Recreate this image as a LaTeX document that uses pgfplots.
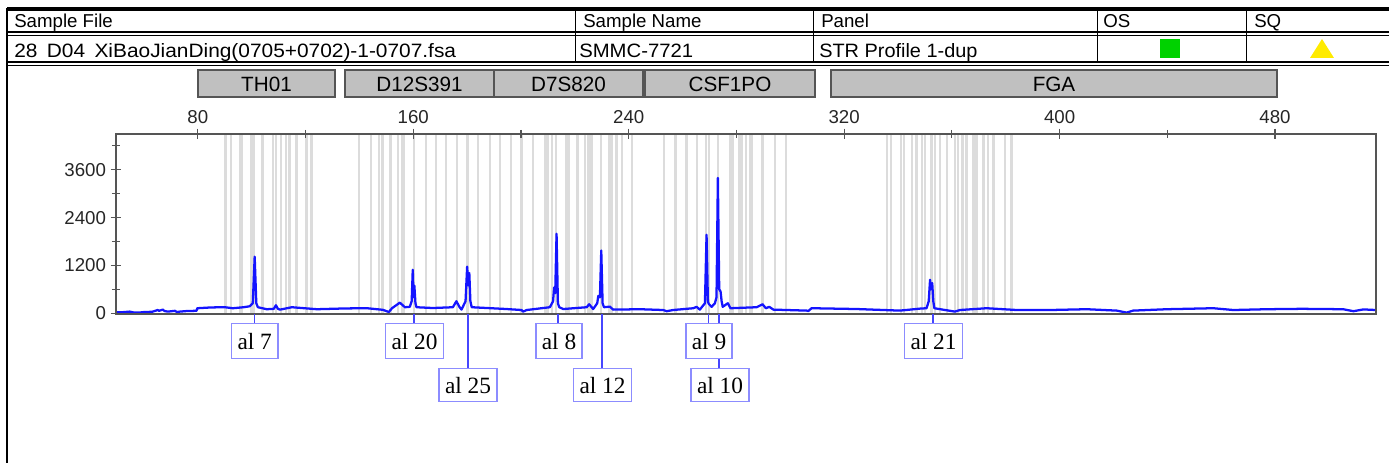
\documentclass[border=0pt]{standalone}
\usepackage{pgfplots}
\pgfplotsset{compat=1.18}
\usepackage{fontspec}
\setmainfont{Liberation Sans}
\newfontfamily\seriffont{Liberation Serif}
\definecolor{bin}{RGB}{220,220,220}
\definecolor{trace}{RGB}{20,20,255}
\definecolor{lblbox}{RGB}{140,140,255}
\definecolor{conn}{RGB}{70,70,255}
\definecolor{locus}{RGB}{192,192,192}
\definecolor{frame}{RGB}{85,85,85}
\definecolor{osgreen}{RGB}{0,210,0}
\definecolor{sqyellow}{RGB}{255,235,0}

\pgfplotstableread{
x y
90.2 4500
92.3 4500
95.6 4500
96.3 4500
99.9 4500
100.8 4500
104.0 4500
108.0 4500
109.0 4500
110.8 4500
112.7 4500
114.0 4500
116.6 4500
120.3 4500
122.2 4500
139.9 4500
144.3 4500
147.3 4500
148.6 4500
151.6 4500
154.4 4500
156.0 4500
156.5 4500
160.2 4500
164.7 4500
168.4 4500
172.1 4500
176.3 4500
180.2 4500
184.1 4500
188.4 4500
192.2 4500
196.2 4500
200.2 4500
204.5 4500
208.9 4500
209.9 4500
211.6 4500
212.9 4500
216.9 4500
217.8 4500
221.0 4500
223.7 4500
225.0 4500
226.2 4500
229.7 4500
232.8 4500
233.7 4500
235.5 4500
237.6 4500
241.3 4500
253.1 4500
257.4 4500
261.5 4500
265.4 4500
268.7 4500
269.8 4500
273.2 4500
277.6 4500
278.6 4500
281.0 4500
281.9 4500
283.5 4500
285.0 4500
285.6 4500
289.7 4500
294.3 4500
298.3 4500
335.8 4500
337.4 4500
341.1 4500
342.3 4500
345.1 4500
346.9 4500
348.8 4500
350.0 4500
352.5 4500
353.7 4500
355.6 4500
358.1 4500
361.2 4500
362.2 4500
363.9 4500
365.5 4500
368.0 4500
369.2 4500
371.7 4500
373.5 4500
375.4 4500
379.7 4500
382.2 4500
}\bins

\pgfplotstableread{
x y
49.6 20
52.0 25
54.7 40
56.0 20
58.0 15
60.3 30
63.0 35
65.1 80
65.6 60
67.0 90
67.6 55
68.9 40
71.5 60
72.2 30
73.3 40
76.0 55
79.5 60
79.8 125
85.0 145
90.0 150
93.0 125
97.0 150
99.3 175
100.4 250
101.1 1420
101.7 250
102.3 150
105.6 100
108.2 110
109.0 200
109.7 110
110.5 90
114.9 150
124.2 100
135.0 120
142.8 125
148.7 85
150.9 30
152.1 125
155.0 265
156.9 150
158.7 160
159.4 300
159.8 1090
160.1 400
160.4 690
160.8 250
161.2 150
167.3 130
174.7 150
176.0 300
177.2 150
177.9 90
179.4 300
180.0 1170
180.4 700
180.8 1010
181.2 300
181.7 150
194.6 105
200.2 80
200.8 40
202.1 80
210.7 150
211.9 300
212.3 645
212.7 500
213.2 1995
213.7 250
214.2 150
215.7 105
224.4 150
225.3 225
226.8 105
228.3 250
228.7 435
229.3 400
229.8 1575
230.3 250
230.8 150
233.0 165
234.2 90
244.2 100
252.8 80
254.1 50
256.5 80
264.0 125
265.2 160
266.4 90
268.3 250
268.9 1970
269.4 300
269.7 235
270.8 160
272.0 250
272.6 400
273.1 3395
273.6 600
274.1 545
274.5 300
274.9 160
276.8 250
277.8 125
287.5 150
289.7 225
290.9 125
292.2 160
293.7 90
306.1 65
306.7 55
307.9 125
324.6 105
340.7 65
348.2 115
350.6 125
351.4 300
351.9 840
352.2 600
352.7 755
353.1 300
353.5 125
361.1 40
363.0 80
372.9 125
384.1 80
396.4 80
410.1 100
421.2 65
424.9 15
427.3 65
439.8 100
457.1 125
464.5 80
476.9 100
490.0 110
505.3 100
509.1 50
512.8 95
517.5 80
}\tracedata

\begin{document}
\begin{tikzpicture}
\path[use as bounding box] (0,0) rectangle (1041.75pt,-347.25pt);

\begin{axis}[
  at={(87pt,-235.5pt)}, anchor=south west,
  width=945pt, height=135pt, scale only axis,
  xmin=49.6, xmax=517.5, ymin=-20, ymax=4500,
  axis on top,
  axis line style={frame, line width=1.1pt},
  xtick={80,160,...,480}, minor xtick={120,200,...,440},
  ytick={0,1200,2400,3600}, minor ytick={600,1800,3000,4200},
  xtick pos=right, xticklabel pos=right, ytick pos=left,
  tick align=center,
  major tick length=8pt, minor tick length=6pt,
  every tick/.style={frame, line width=0.8pt},
  scaled y ticks=false,
  /pgf/number format/set thousands separator={},
  /pgf/number format/assume math mode=true,
  ticklabel style={font=\fontsize{14pt}{16pt}\selectfont, text=black!85},
  clip=true,
]
\addplot[ycomb, no markers, bin, line width=1.8pt, forget plot] table[x=x,y=y] {\bins};
\addplot[trace, line width=1.7pt, line join=round, no markers] table[x=x,y=y] {\tracedata};
\end{axis}

\begin{scope}[x=0.75pt,y=-0.75pt]
  % header table
  \draw[line width=0.9pt] (7,8) -- (1389,8);
  \draw[line width=0.9pt] (7,10) -- (1389,10);
  \draw[line width=0.9pt] (7,32) -- (1389,32);
  \draw[line width=0.9pt] (7,35.5) -- (1389,35.5);
  \draw[line width=0.9pt] (7,62) -- (1389,62);
  \draw[line width=0.9pt] (7,65.5) -- (1389,65.5);
  \draw[line width=1pt] (7,8) -- (7,463);
  \foreach \cx in {575,813,1097,1246} { \draw[line width=0.6pt] (\cx,10) -- (\cx,62); }
  \begin{scope}[every node/.style={anchor=base west, inner sep=0pt, font=\fontsize{14pt}{16pt}\selectfont}]
    \node at (14,28) {Sample File};
    \node at (583,28) {Sample Name};
    \node at (821,28) {Panel};
    \node at (1103,28) {OS};
    \node at (1254,28) {SQ};
  \end{scope}
  \begin{scope}[every node/.style={anchor=base west, inner sep=0pt, font=\fontsize{14.5pt}{16pt}\selectfont}]
    \node at (14,57.5) {\scalebox{1.08}[1]{28\hspace{0.45em}D04\hspace{0.45em}XiBaoJianDing(0705+0702)-1-0707.fsa}};
    \node at (579,57.5) {\scalebox{1.05}[1]{SMMC-7721}};
    \node at (819,57.5) {\scalebox{1.03}[1]{STR Profile 1-dup}};
  \end{scope}
  \fill[osgreen] (1160,39) rectangle (1180,58);
  \fill[sqyellow] (1322,39) -- (1334,58) -- (1310,58) -- cycle;

  % locus boxes
  \begin{scope}[every node/.style={font=\fontsize{15.5pt}{17pt}\selectfont}]
    \foreach \a/\b/\t in {198/335/TH01, 345/494/D12S391, 494/643/D7S820, 645/815/CSF1PO, 831/1277/FGA} {
      \draw[fill=locus, draw=frame, line width=0.9pt] (\a,70) rectangle (\b,97);
      \node at ({(\a+\b)/2},84) {\t};
    }
  \end{scope}

  % allele call labels
  \begin{scope}[conn, line width=1.1pt]
    \draw (254.7,314) -- (254.7,323);
    \draw (413.9,314) -- (413.9,323);
    \draw (468,314) -- (468,368);
    \draw (557.8,314) -- (557.8,323);
    \draw (601.8,314) -- (601.8,368);
    \draw (708.3,314) -- (708.3,323);
    \draw (719,314) -- (719,368);
    \draw (933,314) -- (933,323);
  \end{scope}
  \begin{scope}[every node/.style={draw=lblbox, line width=1.1pt, fill=white, inner xsep=4.5pt, inner ysep=0pt, anchor=north, text=black, font=\seriffont\fontsize{17.5pt}{19pt}\selectfont}]
    \node[minimum height=26.25pt] at (254.7,323) {al 7};
    \node[minimum height=26.25pt] at (414.5,323) {al 20};
    \node[minimum height=24.75pt] at (468,368) {al 25};
    \node[minimum height=26.25pt] at (559,323) {al 8};
    \node[minimum height=24.75pt] at (602.5,368) {al 12};
    \node[minimum height=26.25pt] at (709,323) {al 9};
    \node[minimum height=24.75pt] at (720,368) {al 10};
    \node[minimum height=26.25pt] at (933.5,323) {al 21};
  \end{scope}
\end{scope}
\end{tikzpicture}
\end{document}
